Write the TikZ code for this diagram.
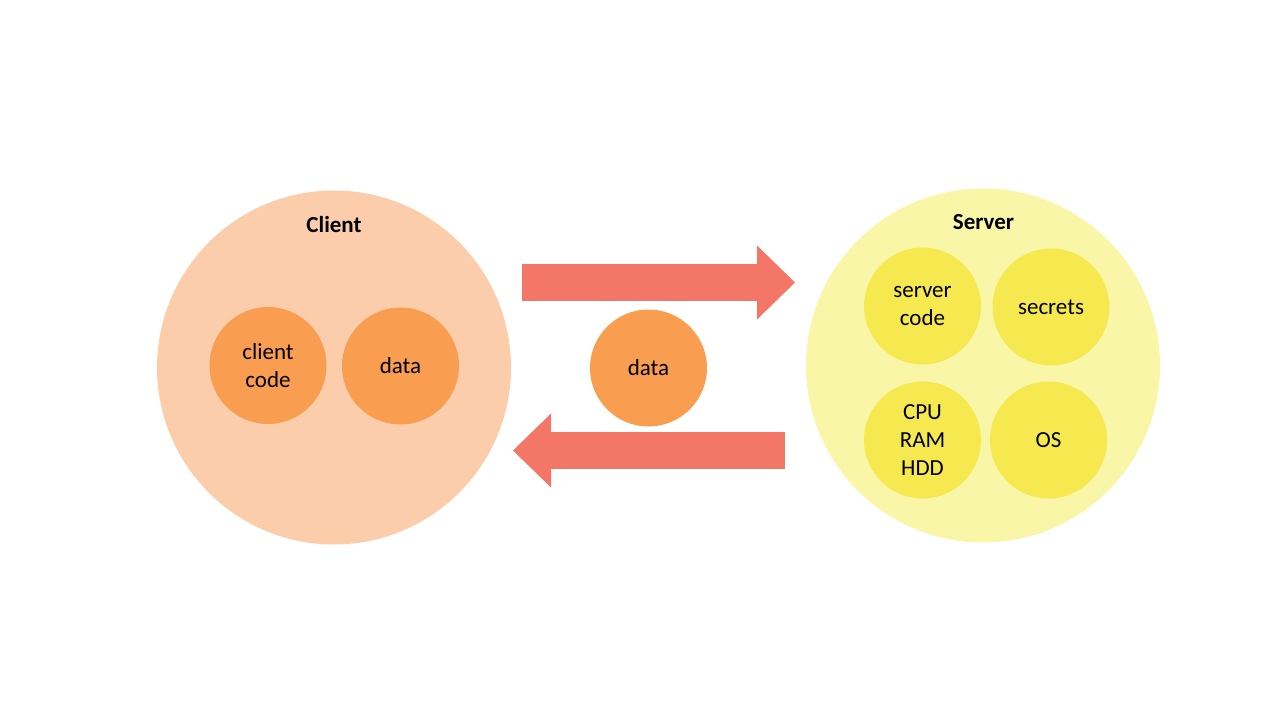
\documentclass[tikz,border=0pt]{standalone}
\usepackage{fontspec}
\setmainfont{Carlito}
\usetikzlibrary{arrows.meta}

\definecolor{clientbg}{HTML}{FCCDAA}
\definecolor{orangedot}{HTML}{F99D51}
\definecolor{arrowred}{HTML}{F47667}
\definecolor{serverbg}{HTML}{FAF6A8}
\definecolor{yellowdot}{HTML}{F6E950}

\begin{document}
\begin{tikzpicture}[x=1pt, y=-1pt,
    big/.style={circle, fill=#1, minimum size=354pt, inner sep=0pt},
    small/.style={circle, fill=#1, minimum size=117pt, inner sep=0pt, align=center,
      font=\fontsize{23}{28}\selectfont},
    title/.style={font=\fontsize{23}{28}\selectfont\bfseries},
    flow/.style={arrowred, line width=37pt,
      -{Triangle[length=38pt, width=74pt, line width=0pt]}}]
        \useasboundingbox (0,0) rectangle (1280,720);

        \node[big=clientbg] (client) at (334,367.5) {};
        \node[big=serverbg] (server) at (983,365.5) {};

        \node[title] (clientlabel) at (334,224.5) {Client};
        \node[title] (serverlabel) at (983.5,222.5) {Server};

        \node[small=orangedot] (clientcode) at (268,365.5) {client\\code};
        \node[small=orangedot] (clientdata) at (400.5,366) {data};
        \node[small=orangedot] (data) at (648.5,368) {data};

        \node[small=yellowdot] (servercode) at (922.5,306) {server\\code};
        \node[small=yellowdot] (secrets) at (1051,307) {secrets};
        \node[small=yellowdot] (hardware) at (922.5,440) {CPU\\RAM\\HDD};
        \node[small=yellowdot] (os) at (1048.5,440) {OS};

        \coordinate (reqstart) at (522,282.5);
        \coordinate (reqend) at (795,282.5);
        \coordinate (resstart) at (785,450.5);
        \coordinate (resend) at (513,450.5);

        \draw[flow] (reqstart) -- (reqend);
        \draw[flow] (resstart) -- (resend);
      \end{tikzpicture}
\end{document}
